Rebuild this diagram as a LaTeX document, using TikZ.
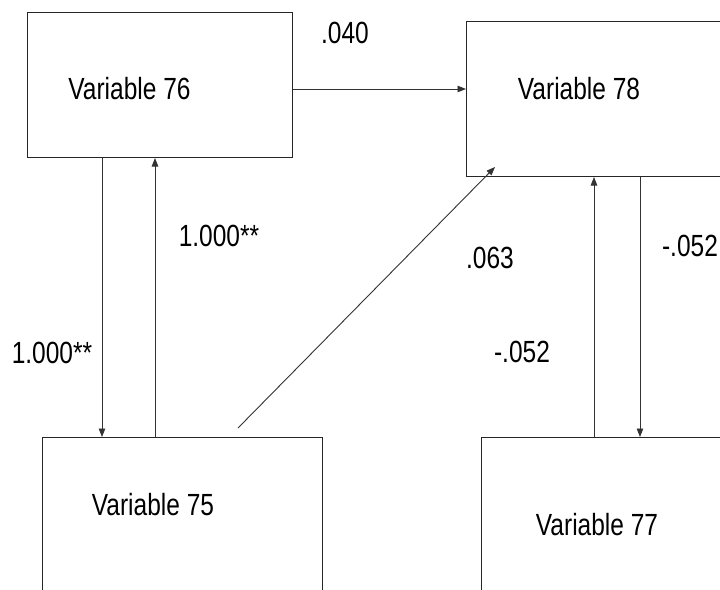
\documentclass[tikz,border=0pt]{standalone}
\usepackage{fontspec}
\setmainfont{Liberation Sans}
\usetikzlibrary{arrows.meta}
\newcommand{\tall}[1]{\scalebox{1}[1.25]{#1}}
\begin{document}
\begin{tikzpicture}[x=1pt,y=-1pt,
  box/.style={draw=black!85,line width=1pt,inner sep=0,anchor=north west},
  txt/.style={font=\fontsize{24.5}{28}\selectfont,inner sep=0},
  conn/.style={draw=black!80,line width=0.9pt},
  arr/.style={conn,-{Triangle[length=8.5pt,width=6.5pt]}}]
\useasboundingbox (0,0) rectangle (720,589);
\clip (0,0) rectangle (720,589);
\fill[white] (0,0) rectangle (720,589);
% boxes
\node[box,minimum width=265pt,minimum height=145pt] (b76) at (27,12) {};
\node[box,minimum width=300pt,minimum height=155pt] (b78) at (466,21) {};
\node[box,minimum width=280pt,minimum height=200pt] (b75) at (42,437) {};
\node[box,minimum width=300pt,minimum height=200pt] (b77) at (481,437) {};
% box texts
\node[txt,anchor=base] (t76) at (129.5,99) {\tall{Variable 76}};
\node[txt,anchor=base] (t78) at (579,99) {\tall{Variable 78}};
\node[txt,anchor=base] (t75) at (153,515) {\tall{Variable 75}};
\node[txt,anchor=base] (t77) at (597,535) {\tall{Variable 77}};
% connectors
\draw[arr] (b76.east |- 0,89) -- (b78.west |- 0,89);
\draw[arr] (b76.south -| 102,0) -- (b75.north -| 102,0);
\draw[arr] (b75.north -| 155,0) -- (b76.south -| 155,0);
\draw[arr] (b77.north -| 594,0) -- (b78.south -| 594,0);
\draw[arr] (b78.south -| 640,0) -- (b77.north -| 640,0);
\coordinate (d1) at (238,428);
\coordinate (d2) at (495,167);
\draw[arr] (d1) -- (d2);
% labels
\node[txt] (l1) at (345,33) {\tall{.040}};
\node[txt] (l2) at (52,353) {\tall{1.000**}};
\node[txt] (l3) at (219,236) {\tall{1.000**}};
\node[txt] (l4) at (490,258) {\tall{.063}};
\node[txt] (l5) at (522,352) {\tall{-.052}};
\node[txt] (l6) at (690,246) {\tall{-.052}};
\end{tikzpicture}
\end{document}
